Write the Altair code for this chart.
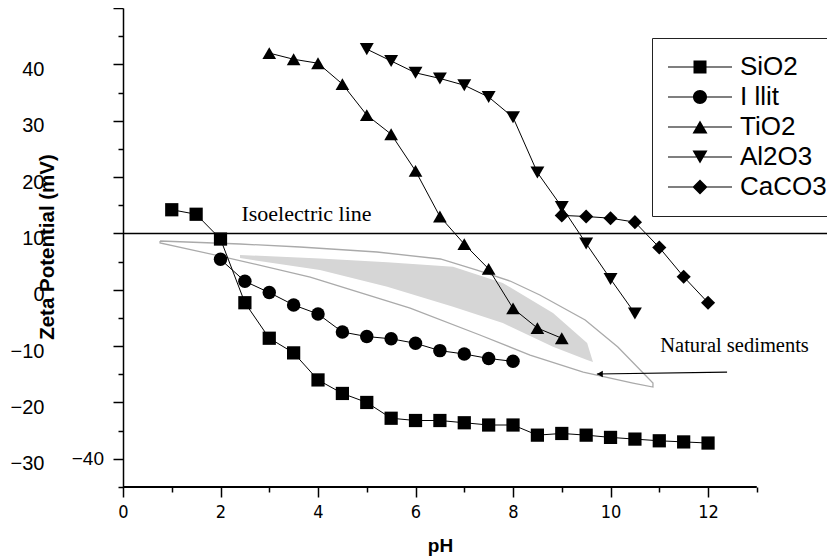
import altair as alt
import pandas as pd

# ---------------- data ----------------
series = ["SiO2", "I llit", "TiO2", "Al2O3", "CaCO3"]

ph_sio2 = [1, 1.5, 2, 2.5, 3, 3.5, 4, 4.5, 5, 5.5, 6, 6.5, 7, 7.5, 8, 8.5, 9, 9.5, 10, 10.5, 11, 11.5, 12]
zeta_sio2 = [14.2, 13.4, 9.0, -2.3, -8.6, -11.2, -16.0, -18.4, -20.0, -22.8, -23.2, -23.2,
             -23.6, -24.0, -24.0, -25.8, -25.5, -25.8, -26.2, -26.5, -26.8, -27.0, -27.2]

ph_illit = [2, 2.5, 3, 3.5, 4, 4.5, 5, 5.5, 6, 6.5, 7, 7.5, 8]
zeta_illit = [5.4, 1.5, -0.5, -2.7, -4.3, -7.5, -8.3, -8.7, -9.5, -10.8, -11.4, -12.2, -12.7]

ph_tio2 = [3, 3.5, 4, 4.5, 5, 5.5, 6, 6.5, 7, 7.5, 8, 8.5, 9]
zeta_tio2 = [42.0, 40.9, 40.2, 36.5, 31.0, 27.6, 21.1, 13.0, 8.1, 3.7, -3.3, -6.8, -8.6]

ph_al2o3 = [5, 5.5, 6, 6.5, 7, 7.5, 8, 8.5, 9, 9.5, 10, 10.5]
zeta_al2o3 = [42.7, 40.6, 38.5, 37.5, 36.3, 34.2, 30.6, 20.8, 14.7, 8.2, 1.9, -4.2]

ph_caco3 = [9, 9.5, 10, 10.5, 11, 11.5, 12]
zeta_caco3 = [13.2, 13.0, 12.7, 12.0, 7.5, 2.3, -2.3]

# natural sediments envelope (outline) and hatched core
lens_upper_ph = [0.76, 2.40, 3.63, 5.21, 6.51, 7.26, 7.94, 8.55, 9.48, 10.15, 10.87]
lens_upper_zeta = [8.65, 8.12, 7.59, 6.70, 5.46, 3.50, 1.55, -0.93, -5.37, -10.16, -16.55]
lens_lower_ph = [0.76, 1.99, 3.84, 5.89, 7.32, 8.35, 9.44, 10.46, 10.87]
lens_lower_zeta = [8.30, 5.99, 2.26, -3.24, -8.03, -11.58, -14.60, -16.55, -17.26]

hatch_ph = [2.40, 4.04, 5.42, 6.77, 7.79, 8.82, 9.52, 9.64]
hatch_top = [6.17, 5.55, 4.87, 4.09, 1.20, -4.13, -9.45, -12.82]
hatch_bottom = [5.63, 3.50, 0.54, -3.01, -5.90, -10.11, -12.47, -12.82]

iso_zeta = [10]
arrow_ph = [12.39, 9.72]
arrow_zeta = [-14.6, -14.95]

iso_text = ["Isoelectric line"]
iso_text_ph = [2.43]
iso_text_zeta = [12.25]
sed_text = ["Natural sediments"]
sed_text_ph = [11.02]
sed_text_zeta = [-11.0]

x_major = [0, 2, 4, 6, 8, 10, 12]
x_minor = [1, 3, 5, 7, 9, 11, 13]
y_major = [50, 40, 30, 20, 10, 0, -10, -20, -30]
y_minor = [45, 35, 25, 15, 5, -5, -15, -25, -35]

# ---------------- tables ----------------
rows = []
for name, phs, zs in zip(series,
                         [ph_sio2, ph_illit, ph_tio2, ph_al2o3, ph_caco3],
                         [zeta_sio2, zeta_illit, zeta_tio2, zeta_al2o3, zeta_caco3]):
    for p, z in zip(phs, zs):
        rows.append({"series": name, "ph": p, "zeta": z})
df = pd.DataFrame(rows)

lens_ph = lens_upper_ph + lens_lower_ph[::-1] + lens_upper_ph[:1]
lens_z = lens_upper_zeta + lens_lower_zeta[::-1] + lens_upper_zeta[:1]
df_lens = pd.DataFrame({"ph": lens_ph, "zeta": lens_z, "o": list(range(len(lens_ph)))})
df_hatch = pd.DataFrame({"ph": hatch_ph, "top": hatch_top, "bottom": hatch_bottom})
df_iso = pd.DataFrame({"zeta": iso_zeta})
df_arrow = pd.DataFrame({"x1": [arrow_ph[0]], "x2": [arrow_ph[1]],
                         "y1": [arrow_zeta[0]], "y2": [arrow_zeta[1]]})
df_head = pd.DataFrame({"ph": [arrow_ph[1]], "zeta": [arrow_zeta[1]]})
df_iso_t = pd.DataFrame({"t": iso_text, "ph": iso_text_ph, "zeta": iso_text_zeta})
df_sed_t = pd.DataFrame({"t": sed_text, "ph": sed_text_ph, "zeta": sed_text_zeta})

# ---------------- scales & axes ----------------
xs = alt.Scale(domain=[0, 14.44], nice=False, zero=False)
ys = alt.Scale(domain=[-35, 50], nice=False, zero=False)

SANS = "Liberation Sans, Arial, sans-serif"
NARROW = "Liberation Sans Narrow, DejaVu Sans Condensed, Liberation Sans, sans-serif"
SERIF = "Liberation Serif, Times New Roman, serif"

x_main = alt.Axis(values=x_major, orient="bottom", tickSize=10, tickWidth=1.5, tickColor="black",
                  domain=False, grid=False, labelFont=NARROW, labelFontSize=18, labelColor="black",
                  labelPadding=6, labelFlush=False, labelOverlap=False,
                  title="pH", titleFont=SANS, titleFontSize=19, titleFontWeight="bold",
                  titleColor="black", titleX=317, titleY=64, titleBaseline="alphabetic",
                  titleAlign="center")
x_min = alt.Axis(values=x_minor, orient="bottom", tickSize=5, tickWidth=1.5, tickColor="black",
                 domain=False, grid=False, labels=False, title=None)
y_main = alt.Axis(values=y_major, orient="left", tickSize=10, tickWidth=1.5, tickColor="black",
                  domain=True, domainWidth=1.5, domainColor="black", grid=False,
                  labelExpr="datum.value == 50 ? '' : datum.label",
                  labelFont=SANS, labelFontSize=20, labelColor="black", labelPadding=69,
                  labelOffset=5, labelFlush=False, labelOverlap=False,
                  title="Zeta Potential (mV)", titleFont=SANS, titleFontSize=20.5,
                  titleFontWeight="bold", titleColor="black", titleAngle=270, titleX=-70,
                  titleY=238.5, titleBaseline="alphabetic", titleAlign="center")
y_min = alt.Axis(values=y_minor, orient="left", tickSize=5, tickWidth=1.5, tickColor="black",
                 domain=False, grid=False, labels=False, title=None)


def X(f, axis=None):
    return alt.X(f, type="quantitative", scale=xs, axis=axis)


def Y(f, axis=None):
    return alt.Y(f, type="quantitative", scale=ys, axis=axis)


# ---------------- layers ----------------
lens = alt.Chart(df_lens).mark_line(color="#aaaaaa", strokeWidth=1.3).encode(
    x=X("ph", x_main), y=Y("zeta", y_main), order="o:Q")

hatch = alt.Chart(df_hatch).mark_area(color="#d6d6d6", opacity=1).encode(
    x=X("ph"), y=Y("top"), y2="bottom")

iso = alt.Chart(df_iso).mark_rule(color="black", strokeWidth=1.5).encode(y=Y("zeta"))

xaxis_line = alt.Chart(df_iso).mark_rule(color="black", strokeWidth=2).encode(
    x=alt.X(datum=0, type="quantitative", scale=xs, axis=None),
    x2=alt.X2(datum=13),
    y=alt.Y(datum=-35, type="quantitative", scale=ys, axis=None))

lines = alt.Chart(df).mark_line(color="black", strokeWidth=1).encode(
    x=X("ph"), y=Y("zeta"), detail="series:N", order="ph:Q")

points = alt.Chart(df).mark_point(filled=True, color="black", opacity=1).encode(
    x=X("ph"), y=Y("zeta"),
    shape=alt.Shape("series:N", legend=None,
                    scale=alt.Scale(domain=series,
                                    range=["square", "circle", "triangle-up", "triangle-down", "diamond"])),
    size=alt.Size("series:O", legend=None,
                  scale=alt.Scale(domain=series, range=[175, 200, 230, 230, 190])))

legend_paths = [
    "M-2.6,-0.1L10.2,-0.1L10.2,0.1L-2.6,0.1Z M2.5,-1.3L5.1,-1.3L5.1,1.3L2.5,1.3Z",
    "M-2.6,-0.1L10.2,-0.1L10.2,0.1L-2.6,0.1Z M2.4,0A1.4,1.4 0 1,1 5.2,0A1.4,1.4 0 1,1 2.4,0Z",
    "M-2.6,-0.1L10.2,-0.1L10.2,0.1L-2.6,0.1Z M3.8,-1.3L5.3,1.3L2.3,1.3Z",
    "M-2.6,-0.1L10.2,-0.1L10.2,0.1L-2.6,0.1Z M2.3,-1.3L5.3,-1.3L3.8,1.3Z",
    "M-2.6,-0.1L10.2,-0.1L10.2,0.1L-2.6,0.1Z M3.8,-1.5L5.3,0L3.8,1.5L2.3,0Z",
]
legend_layer = alt.Chart(pd.DataFrame({"series": series})).transform_filter("false").mark_point(
    filled=True, color="black", opacity=1, size=100).encode(
    shape=alt.Shape("series:N",
                    scale=alt.Scale(domain=series, range=legend_paths),
                    legend=alt.Legend(title=None, orient="none", legendX=529, legendY=30,
                                      padding=16, strokeColor="#222222", fillColor="white",
                                      cornerRadius=0, labelFont=SANS, labelFontSize=26,
                                      labelColor="black", labelOffset=46, rowPadding=4,
                                      symbolSize=100, symbolFillColor="black",
                                      symbolStrokeWidth=0, symbolOpacity=1, labelLimit=300)))

iso_label = alt.Chart(df_iso_t).mark_text(font=SERIF, fontSize=22, align="left",
                                          baseline="alphabetic", color="black").encode(
    x=X("ph"), y=Y("zeta"), text="t:N")

sed_label = alt.Chart(df_sed_t).mark_text(font=SERIF, fontSize=20.5, align="left",
                                          baseline="alphabetic", color="black").encode(
    x=X("ph"), y=Y("zeta"), text="t:N")

stray_label = alt.Chart(df_iso).mark_text(font=SANS, fontSize=19, align="right",
                                          baseline="middle", dx=-19, color="black").encode(
    x=alt.X(datum=0, type="quantitative", scale=xs, axis=None),
    y=alt.Y(datum=-30, type="quantitative", scale=ys, axis=None),
    text=alt.value("\u221240"))

arrow = alt.Chart(df_arrow).mark_rule(color="black", strokeWidth=1.2).encode(
    x=X("x1", x_min), x2="x2", y=Y("y1", y_min), y2="y2")

head = alt.Chart(df_head).mark_point(shape="triangle-left", filled=True, color="black",
                                     opacity=1, size=45, xOffset=3).encode(
    x=X("ph"), y=Y("zeta"))

chart = alt.layer(
    lens, hatch, iso, xaxis_line, lines, points, legend_layer,
    iso_label, sed_label, stray_label, arrow, head
).resolve_axis(x="independent", y="independent").resolve_scale(
    shape="independent", size="independent"
).properties(
    width=704, height=479,
    padding={"left": 115, "top": 0, "right": 0, "bottom": 70},
    autosize=alt.AutoSizeParams(type="none"),
    background="white",
).configure_view(stroke="transparent")

chart.save("out.html", embed_options={"renderer": "svg", "actions": False})
